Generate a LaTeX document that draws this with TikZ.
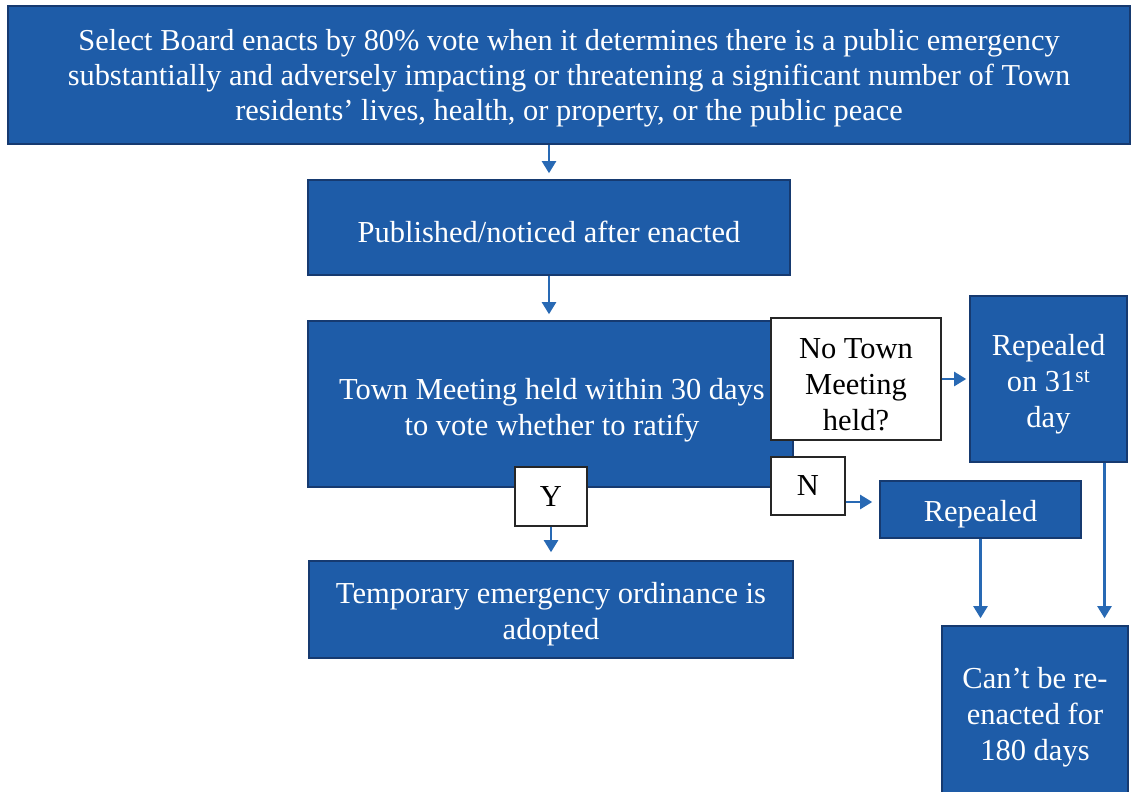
\documentclass[tikz,border=0pt]{standalone}
\usepackage{fontspec}
\setmainfont{Liberation Serif}
\usetikzlibrary{arrows.meta}
\definecolor{boxblue}{RGB}{30,92,168}
\definecolor{edgeblue}{RGB}{22,58,112}
\definecolor{arrblue}{RGB}{40,105,180}
\newcommand{\dnstrut}{\rule{0pt}{31pt}}
\newcommand{\topstrut}{\rule{0pt}{27pt}}
\tikzset{
  bluebox/.style={draw=edgeblue, line width=1.6pt, fill=boxblue, text=white, align=center, inner sep=0pt,
    font=\fontsize{30.5}{36}\selectfont},
  whitebox/.style={draw=black!85, line width=1.2pt, fill=white, text=black, align=center, inner sep=0pt,
    font=\fontsize{30.5}{36}\selectfont},
  arr/.style={draw=arrblue, line width=2.2pt, -{Triangle[width=14pt,length=12pt]}}
}
\begin{document}
\begin{tikzpicture}[x=1pt,y=-1pt]
\useasboundingbox[fill=white] (0,0) rectangle (1132,792);
\node[bluebox, minimum width=1122pt, minimum height=138pt, font=\fontsize{30.4}{35}\selectfont] (top) at (569,75)
  {\topstrut Select Board enacts by 80\% vote when it determines there is a public emergency\\
   substantially and adversely impacting or threatening a significant number of Town\\
   residents’ lives, health, or property, or the public peace};
\node[bluebox, minimum width=482pt, minimum height=95pt] (pub) at (549,227.5) {\dnstrut Published/noticed after enacted};
\node[bluebox, minimum width=485pt, minimum height=166pt] (town) at (550.5,404) {};
\node[text=white, align=center, font=\fontsize{30.5}{36}\selectfont] (towntxt) at (552,405)
  {\dnstrut Town Meeting held within 30 days\\ to vote whether to ratify};
\node[bluebox, minimum width=157pt, minimum height=166pt] (rep31) at (1048.5,379)
  {\dnstrut Repealed\\ on 31\textsuperscript{st}\\ day};
\node[whitebox, minimum width=170pt, minimum height=122pt] (notown) at (856,379)
  {\dnstrut No Town\\ Meeting\\ held?};
\node[whitebox, minimum width=72pt, minimum height=59pt] (ybox) at (551,496.5) {Y};
\node[whitebox, minimum width=74pt, minimum height=58pt] (nbox) at (808,486) {N};
\node[bluebox, minimum width=201pt, minimum height=57pt] (rep) at (980.5,509.5) {\dnstrut Repealed};
\node[bluebox, minimum width=484pt, minimum height=97pt] (temp) at (551,609.5)
  {\dnstrut Temporary emergency ordinance is\\ adopted};
\node[bluebox, minimum width=186pt, minimum height=172pt] (cant) at (1035,712)
  {\dnstrut Can’t be re-\\ enacted for\\ 180 days};
% connectors
\draw[arr, shorten >=6pt] (pub.north |- top.south) -- (pub.north);
\draw[arr, shorten >=6pt] (pub.south) -- (pub.south |- town.north);
\draw[arr, shorten >=8pt] (ybox.south) -- (ybox.south |- temp.north);
\draw[arr, shorten >=3pt] (notown.east) -- (rep31.west);
\coordinate (na) at ([yshift=-16pt]nbox.east);
\draw[arr, shorten >=7pt] (na) -- (na -| rep.west);
\draw[arr, shorten >=7pt] (rep.south) -- (rep.south |- cant.north);
\coordinate (ra) at ([xshift=56pt]rep31.south);
\draw[arr, shorten >=7pt] (ra) -- (ra |- cant.north);
\end{tikzpicture}
\end{document}
